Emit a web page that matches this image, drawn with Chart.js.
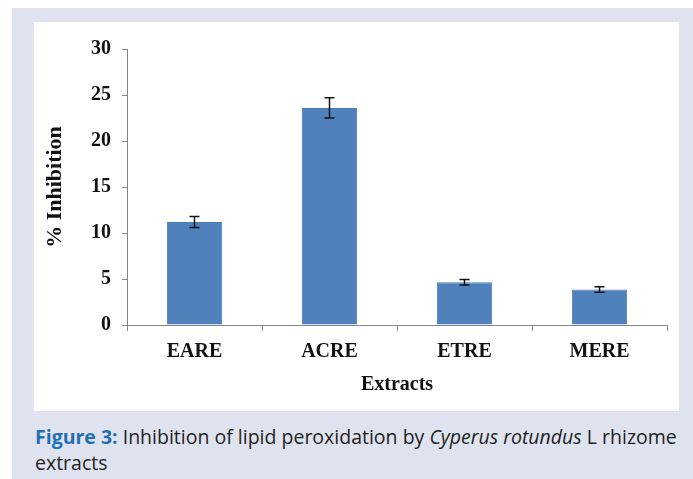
<!DOCTYPE html>
<html>
<head>
<meta charset="utf-8">
<script src="https://cdn.jsdelivr.net/npm/chart.js@4"></script>
<style>
  body { margin: 0; background: #ffffff; width: 693px; height: 479px; overflow: hidden; position: relative; }
  #band { position: absolute; left: 12px; top: 8px; width: 681px; height: 471px; background: #dfe3f0; }
  #panel { position: absolute; left: 34px; top: 22px; width: 645px; height: 389px; background: #ffffff; }
  #caption { position: absolute; left: 35px; top: 424px; width: 660px; white-space: nowrap; font-family: "Open Sans", sans-serif; font-size: 19.5px; line-height: 26px; color: #231f20; }
  #caption b { color: #1f6fb4; }
</style>
</head>
<body>
<div id="band"></div>
<div id="panel"><canvas id="inhibitionChart" width="645" height="389"></canvas></div>
<div id="caption"><b>Figure 3:</b> Inhibition of lipid peroxidation by <i>Cyperus rotundus</i> L rhizome<br>extracts</div>
<script>
var extracts = ['EARE', 'ACRE', 'ETRE', 'MERE'];
var inhibition = [11.2, 23.6, 4.65, 3.85];
var inhibitionErr = [0.6, 1.1, 0.3, 0.3];
var yTicks = [0, 5, 10, 15, 20, 25, 30];

var ctx = document.getElementById('inhibitionChart').getContext('2d');

// error bars drawn from the y scale
var errorBars = {
    id: 'errorBars',
    afterDatasetsDraw: function(chart) {
        var c = chart.ctx;
        var yScale = chart.scales.y;
        var meta = chart.getDatasetMeta(0);
        c.save();
        c.strokeStyle = '#111111';
        c.lineWidth = 1.5;
        for (var i = 0; i < meta.data.length; i++) {
            var x = meta.data[i].x;
            var top = yScale.getPixelForValue(inhibition[i] + inhibitionErr[i]);
            var bottom = yScale.getPixelForValue(inhibition[i] - inhibitionErr[i]);
            c.beginPath();
            c.moveTo(x, top); c.lineTo(x, bottom);
            c.moveTo(x - 5, top); c.lineTo(x + 5, top);
            c.moveTo(x - 5, bottom); c.lineTo(x + 5, bottom);
            c.stroke();
        }
        c.restore();
    }
};

var serifBold = { family: '"Liberation Serif", "Times New Roman", serif', size: 20, weight: 'bold' };

var chart = new Chart(ctx, {
    type: 'bar',
    data: {
        labels: extracts,
        datasets: [{
            label: '% Inhibition',
            data: inhibition,
            backgroundColor: '#4f81bd',
            borderColor: '#4a7ab5',
            borderWidth: 1,
            categoryPercentage: 1.0,
            barPercentage: 0.41
        }]
    },
    options: {
        responsive: false,
        animation: false,
        layout: { padding: { left: 0, right: 12, top: 27, bottom: 0 } },
        plugins: {
            legend: { display: false },
            tooltip: { enabled: false }
        },
        scales: {
            x: {
                grid: { display: true, offset: true, drawOnChartArea: false, tickLength: 6, color: '#868686' },
                border: { color: '#868686', width: 1 },
                ticks: { color: '#111111', font: serifBold, padding: 9 },
                title: { display: true, text: 'Extracts', color: '#111111', font: serifBold, padding: { top: 0, bottom: 14 } },
                afterFit: function(scale) { scale.height = 86; }
            },
            y: {
                min: 0,
                max: 30,
                afterBuildTicks: function(scale) {
                    scale.ticks = yTicks.map(function(v) { return { value: v }; });
                },
                grid: { display: true, drawOnChartArea: false, tickLength: 5, color: '#868686' },
                border: { color: '#868686', width: 1 },
                ticks: { color: '#111111', font: serifBold, padding: 11 },
                title: { display: true, text: '% Inhibition', color: '#111111', font: { family: '"Liberation Serif", "Times New Roman", serif', size: 22, weight: 'bold' }, padding: { top: 8, bottom: 0 } },
                afterFit: function(scale) { scale.width = 93; }
            }
        }
    },
    plugins: [errorBars]
});
</script>
</body>
</html>
